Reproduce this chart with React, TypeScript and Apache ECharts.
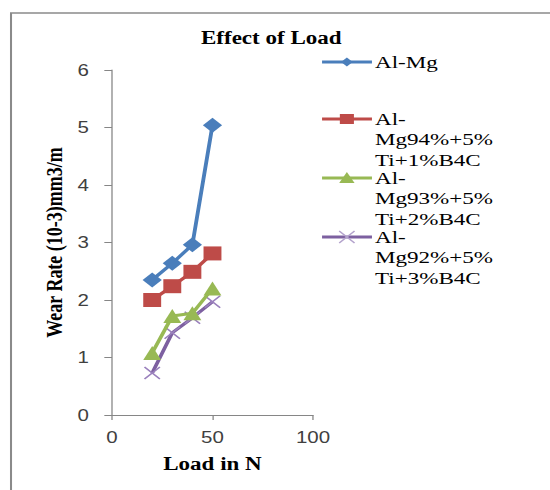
import React, { useEffect, useRef } from "react";
import * as echarts from "echarts";

const loads = [20, 30, 40, 50];
const seriesNames = [
  "Al-Mg",
  "Al-Mg94%+5% Ti+1%B4C",
  "Al-Mg93%+5% Ti+2%B4C",
  "Al-Mg92%+5% Ti+3%B4C",
];
const legendLabels = [
  "Al-Mg",
  "Al-\nMg94%+5%\nTi+1%B4C",
  "Al-\nMg93%+5%\nTi+2%B4C",
  "Al-\nMg92%+5%\nTi+3%B4C",
];
const alMg = [2.35, 2.64, 2.96, 5.04];
const b4c1 = [2.0, 2.24, 2.49, 2.81];
const b4c2 = [1.08, 1.72, 1.77, 2.2];
const b4c3 = [0.73, 1.43, 1.69, 1.97];
const seriesValues = [alMg, b4c1, b4c2, b4c3];
const colors = ["#4A7EBB", "#BE4B48", "#98B954", "#7D60A0"];
const symbols = ["diamond", "square", "triangle", "cross"];

const SX = 1.28;
const W = 550 / SX;
const H = 490;
const SERIF = '"Liberation Serif", "Times New Roman", serif';

const crossPath =
  "path://M0,1.5 L1.5,0 L10,8.5 L18.5,0 L20,1.5 L11.5,10 L20,18.5 L18.5,20 L10,11.5 L1.5,20 L0,18.5 L8.5,10 Z";

function legendMarker(kind: string, cx: number, cy: number, color: string): any {
  if (kind === "diamond") {
    return { type: "polygon", shape: { points: [[cx, cy - 4.5], [cx + 4.5, cy], [cx, cy + 4.5], [cx - 4.5, cy]] }, style: { fill: color } };
  }
  if (kind === "square") {
    return { type: "rect", shape: { x: cx - 5.5, y: cy - 5, width: 11, height: 10 }, style: { fill: color } };
  }
  if (kind === "triangle") {
    return { type: "polygon", shape: { points: [[cx, cy - 6], [cx + 6, cy + 5], [cx - 6, cy + 5]] }, style: { fill: color } };
  }
  const s = 6;
  return {
    type: "group",
    children: [
      { type: "line", shape: { x1: cx - s, y1: cy - s, x2: cx + s, y2: cy + s }, style: { stroke: "#B3A2CC", lineWidth: 1.2 } },
      { type: "line", shape: { x1: cx - s, y1: cy + s, x2: cx + s, y2: cy - s }, style: { stroke: "#B3A2CC", lineWidth: 1.2 } },
    ],
  };
}

export default function App() {
  const ref = useRef<HTMLDivElement>(null);
  useEffect(() => {
    if (!ref.current) return;
    const chart = echarts.init(ref.current, undefined, { renderer: "svg", width: W, height: H });
    const legendYs = [62, 119, 178, 237];
    const legendGraphics: any[] = [];
    seriesNames.forEach((_, i) => {
      const y = legendYs[i];
      legendGraphics.push({ type: "line", shape: { x1: 251.6, y1: y, x2: 290.6, y2: y }, style: { stroke: colors[i], lineWidth: 3 } });
      legendGraphics.push(legendMarker(symbols[i], 271, y, colors[i]));
      legendGraphics.push({
        type: "text",
        x: 293,
        y: y - 10.25,
        scaleX: 1.06,
        style: {
          text: legendLabels[i],
          font: '17px "Liberation Serif"',
          lineHeight: 20.5,
          fill: "#000",
          verticalAlign: "top",
          align: "left",
        },
      });
    });
    chart.setOption({
      animation: false,
      backgroundColor: "#fff",
      title: {
        text: "Effect of Load",
        left: 157,
        top: 29,
        padding: 0,
        textStyle: { fontFamily: SERIF, fontWeight: "bold", fontSize: 18, color: "#000" },
      },
      grid: { left: 87.5, top: 70, width: 157, height: 345, containLabel: false },
      xAxis: {
        type: "value",
        min: 0,
        max: 100,
        interval: 50,
        name: "Load in N",
        nameLocation: "middle",
        nameGap: 40,
        nameTextStyle: { fontFamily: SERIF, fontWeight: "bold", fontSize: 18, color: "#000" },
        axisLine: { show: true, lineStyle: { color: "#868686", width: 1 } },
        axisTick: { show: true, length: 5, lineStyle: { color: "#868686" } },
        axisLabel: { margin: 14, fontFamily: "Liberation Sans", fontSize: 16, color: "#404040" },
        splitLine: { show: false },
      },
      yAxis: {
        type: "value",
        min: 0,
        max: 6,
        interval: 1,
        name: "Wear Rate (10-3)mm3/m",
        nameLocation: "middle",
        nameGap: 36,
        nameTextStyle: { fontFamily: SERIF, fontWeight: "bold", fontSize: 18, color: "#000" },
        axisLine: { show: true, lineStyle: { color: "#868686", width: 1 } },
        axisTick: { show: true, length: 6, lineStyle: { color: "#868686" } },
        axisLabel: { margin: 18, fontFamily: "Liberation Sans", fontSize: 16, color: "#404040" },
        splitLine: { show: false },
      },
      graphic: [
        {
          type: "rect",
          shape: { x: 8.6, y: 13, width: 600, height: 600 },
          style: { fill: "none", stroke: "#8a8a8a", lineWidth: 1.6 },
          silent: true,
          z: -10,
        },
        ...legendGraphics,
      ],
      series: seriesNames.map((name, i) => ({
        name,
        type: "line",
        data: loads.map((x, j) => [x, seriesValues[i][j]]),
        symbol: symbols[i] === "cross" ? crossPath : symbols[i],
        symbolSize: symbols[i] === "cross" ? 13 : symbols[i] === "diamond" ? 15 : 14,
        lineStyle: { color: colors[i], width: 3 },
        itemStyle: { color: symbols[i] === "cross" ? "#9A80BD" : colors[i] },
        z: 10 - i,
      })),
    });
    return () => chart.dispose();
  }, []);
  return (
    <div style={{ position: "fixed", left: 0, top: 0, width: 550, height: 490, overflow: "hidden", background: "#fff" }}>
      <div
        ref={ref}
        style={{ width: W, height: H, transform: `scaleX(${SX})`, transformOrigin: "0 0" }}
      />
    </div>
  );
}
